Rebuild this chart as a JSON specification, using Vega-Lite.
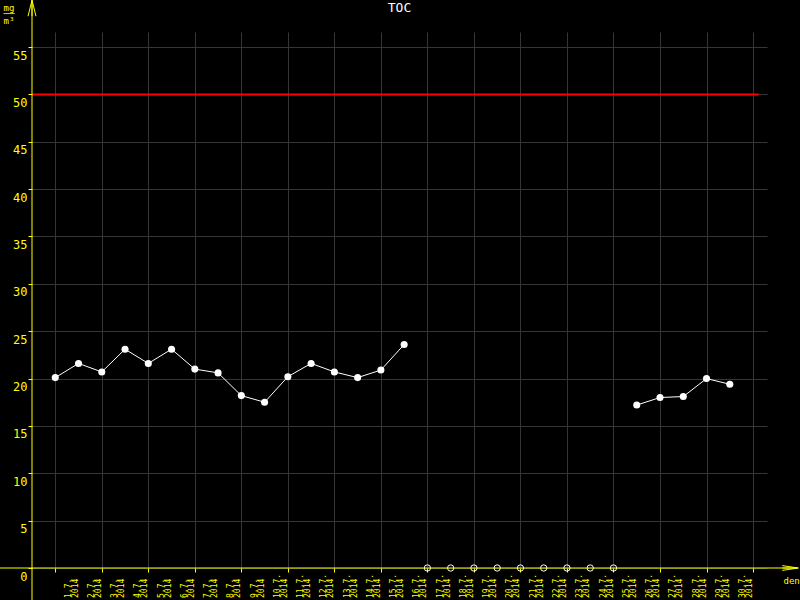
{
  "$schema": "https://vega.github.io/schema/vega-lite/v6.json",
  "width": 735,
  "height": 536,
  "autosize": {"type": "none"},
  "padding": {"left": 32, "top": 32, "right": 33, "bottom": 32},
  "background": "#000000",
  "config": {"view": {"stroke": null}, "font": "DejaVu Sans Mono"},
  "title": {"text": "TOC", "color": "#ffffff", "font": "DejaVu Sans Mono", "fontSize": 13, "fontWeight": "normal", "anchor": "middle", "frame": "group", "offset": -17},
  "data": {"values": [
    {"day": 1, "label": "1.7. 2014", "toc": 20.1},
    {"day": 2, "label": "2.7. 2014", "toc": 21.6},
    {"day": 3, "label": "3.7. 2014", "toc": 20.7},
    {"day": 4, "label": "4.7. 2014", "toc": 23.1},
    {"day": 5, "label": "5.7. 2014", "toc": 21.6},
    {"day": 6, "label": "6.7. 2014", "toc": 23.1},
    {"day": 7, "label": "7.7. 2014", "toc": 21.0},
    {"day": 8, "label": "8.7. 2014", "toc": 20.6},
    {"day": 9, "label": "9.7. 2014", "toc": 18.2},
    {"day": 10, "label": "10.7. 2014", "toc": 17.5},
    {"day": 11, "label": "11.7. 2014", "toc": 20.2},
    {"day": 12, "label": "12.7. 2014", "toc": 21.6},
    {"day": 13, "label": "13.7. 2014", "toc": 20.7},
    {"day": 14, "label": "14.7. 2014", "toc": 20.1},
    {"day": 15, "label": "15.7. 2014", "toc": 20.9},
    {"day": 16, "label": "16.7. 2014", "toc": 23.6},
    {"day": 17, "label": "17.7. 2014", "toc": null},
    {"day": 18, "label": "18.7. 2014", "toc": null},
    {"day": 19, "label": "19.7. 2014", "toc": null},
    {"day": 20, "label": "20.7. 2014", "toc": null},
    {"day": 21, "label": "21.7. 2014", "toc": null},
    {"day": 22, "label": "22.7. 2014", "toc": null},
    {"day": 23, "label": "23.7. 2014", "toc": null},
    {"day": 24, "label": "24.7. 2014", "toc": null},
    {"day": 25, "label": "25.7. 2014", "toc": null},
    {"day": 26, "label": "26.7. 2014", "toc": 17.2},
    {"day": 27, "label": "27.7. 2014", "toc": 18.0},
    {"day": 28, "label": "28.7. 2014", "toc": 18.1},
    {"day": 29, "label": "29.7. 2014", "toc": 20.0},
    {"day": 30, "label": "30.7. 2014", "toc": 19.4}
  ]},
  "layer": [
    {
      "data": {"values": [{"limit": 50, "from": 0, "to": 31.24}]},
      "mark": {"type": "rule", "color": "#ff0000", "strokeWidth": 2},
      "encoding": {
        "x": {"field": "from", "type": "quantitative",
          "scale": {"domain": [0, 31.6], "nice": false, "zero": false},
          "axis": {"values": [1,2,3,4,5,6,7,8,9,10,11,12,13,14,15,16,17,18,19,20,21,22,23,24,25,26,27,28,29,30,31],
            "grid": true, "gridColor": "#363636", "gridWidth": 1, "domain": false, "labels": false,
            "ticks": true, "tickColor": "#ffff00", "tickSize": 4, "tickWidth": 1,
            "title": "den", "titleColor": "#ffff00", "titleFont": "DejaVu Sans Mono", "titleFontSize": 9, "titleFontWeight": "normal",
            "titleAnchor": null, "titleX": 751, "titleY": 15, "titleAlign": "left", "titleBaseline": "alphabetic"}},
        "x2": {"field": "to"},
        "y": {"field": "limit", "type": "quantitative",
          "scale": {"domain": [0, 56.59], "nice": false, "zero": false},
          "axis": {"values": [0,5,10,15,20,25,30,35,40,45,50,55],
            "grid": true, "gridColor": "#363636", "gridWidth": 1, "domain": false,
            "ticks": true, "tickColor": "#ffff00", "tickSize": 4, "tickWidth": 1,
            "labelColor": "#ffff00", "labelFont": "DejaVu Sans Mono", "labelFontSize": 12, "labelBaseline": "top", "labelOffset": 3, "labelPadding": 1,
            "title": ["mg", "──", "m³"], "titleColor": "#ffff00", "titleFont": "DejaVu Sans Mono", "titleFontSize": 9, "titleFontWeight": "normal",
            "titleAngle": 0, "titleAnchor": null, "titleX": -29, "titleY": -22, "titleAlign": "left", "titleBaseline": "alphabetic", "titleLineHeight": 6.5}}
      }
    },
    {
      "mark": {"type": "line", "color": "#ffffff", "strokeWidth": 1, "invalid": "break-paths-filter-domains"},
      "encoding": {
        "x": {"field": "day", "type": "quantitative"},
        "y": {"field": "toc", "type": "quantitative"}
      }
    },
    {
      "mark": {"type": "point", "filled": true, "color": "#ffffff", "size": 50, "opacity": 1},
      "encoding": {
        "x": {"field": "day", "type": "quantitative"},
        "y": {"field": "toc", "type": "quantitative"}
      }
    },
    {
      "transform": [{"filter": "datum.toc === null"}],
      "mark": {"type": "point", "filled": false, "color": "#ffffff", "size": 40, "strokeWidth": 1, "opacity": 1},
      "encoding": {
        "x": {"field": "day", "type": "quantitative"},
        "y": {"datum": 0, "type": "quantitative"}
      }
    },
    {
      "mark": {"type": "text", "angle": 270, "align": "left", "baseline": "middle", "dx": -30, "dy": 13.3, "lineBreak": " ", "lineHeight": 7, "fontSize": 8, "font": "DejaVu Sans Mono", "color": "#ffff00"},
      "encoding": {
        "x": {"field": "day", "type": "quantitative"},
        "y": {"datum": 0, "type": "quantitative"},
        "text": {"field": "label"}
      }
    },
    {
      "data": {"values": [{"axis": "y", "x1": 0, "x2": 0, "y1": 60, "y2": -3.4}, {"axis": "x", "x1": -1.39, "x2": 32.87, "y1": 0, "y2": 0}]},
      "mark": {"type": "rule", "color": "#ffff00", "strokeWidth": 1},
      "encoding": {
        "x": {"field": "x1", "type": "quantitative"},
        "x2": {"field": "x2"},
        "y": {"field": "y1", "type": "quantitative"},
        "y2": {"field": "y2"}
      }
    },
    {
      "data": {"values": [{"axis": "y", "ax": 0, "ay": 59.1}]},
      "mark": {"type": "point", "shape": "M-0.5,1L0,-1L0.5,1M0,-1L0,1", "filled": false, "color": "#ffff00", "size": 256, "strokeWidth": 1, "opacity": 1},
      "encoding": {
        "x": {"field": "ax", "type": "quantitative"},
        "y": {"field": "ay", "type": "quantitative"}
      }
    },
    {
      "data": {"values": [{"axis": "x", "ax": 32.6, "ay": 0}]},
      "mark": {"type": "point", "shape": "M-1,-0.3L1,0L-1,0.3M-1,0L1,0", "filled": false, "color": "#ffff00", "size": 256, "strokeWidth": 1, "opacity": 1},
      "encoding": {
        "x": {"field": "ax", "type": "quantitative"},
        "y": {"field": "ay", "type": "quantitative"}
      }
    }
  ]
}
